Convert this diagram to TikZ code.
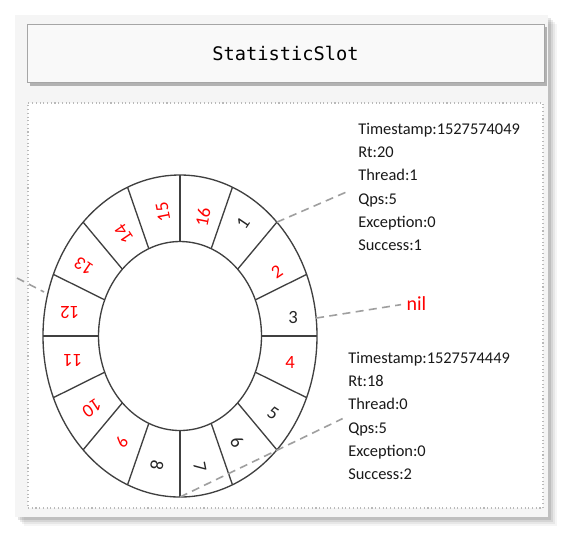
\documentclass[tikz,border=0pt]{standalone}
\usepackage{fontspec}
\setmainfont{Carlito}
\newfontfamily\monofont{DejaVu Sans Mono}
\begin{document}
\begin{tikzpicture}[x=0.75pt,y=-0.75pt,
  ringline/.style={draw=black!75, line width=1pt},
  dashln/.style={draw=gray!75, line width=1.2pt, dash pattern=on 6pt off 4pt},
  info/.style={anchor=north west, inner sep=0pt, align=left, font=\fontsize{12.3}{17.4}\selectfont, text=black!90},
  rnum/.style={font=\fontsize{14}{14}\selectfont, inner sep=0pt},
  rred/.style={rnum, text=red},
  rblk/.style={rnum, text=black!85}]
\useasboundingbox (0,0) rectangle (566,537);
% outer frame with shadow
\foreach \o/\op in {9/0.04,7/0.06,5/0.08,3/0.1}{
  \fill[black,opacity=\op] (15+\o,15+\o) rectangle (548+\o,517+\o);
}
\fill[gray!8] (15,15) rectangle (548,517);
% title
\fill[gray!60] (30,27) rectangle (547,86);
\node[draw=gray!70, fill=gray!5, minimum width=387.75pt, minimum height=43.5pt,
      font=\monofont\fontsize{14}{14}\selectfont] (title) at (285.5,53) {StatisticSlot};
% panel
\node[draw=gray!55, dotted, line width=0.8pt, fill=white, minimum width=386.25pt,
      minimum height=303.75pt] (panel) at (285.5,305.5) {};
% ring
\coordinate (c) at (180,336);
\draw[ringline] (c) ellipse [x radius=102.75pt, y radius=120.75pt];
\draw[ringline] (c) ellipse [x radius=61.125pt, y radius=70.875pt];
\foreach \a in {0,22.5,...,337.5}{
  \draw[ringline, shift={(c)}] (\a:81.5 and 94.5) -- (\a:137 and 161);
}
\foreach \n/\x/\y/\r/\s in {15/163/212/101/rred, 16/203/217/79/rred, 1/243/223/56/rblk,
   2/277/272/34/rred, 3/293/317/0/rblk, 4/290/362/0/rred, 5/273/413/-34/rblk,
   6/237/442/-56/rblk, 7/200/467/-79/rblk, 8/157/465/-101/rblk, 9/122/442/-124/rred,
   10/92/408/-146/rred, 11/73/360/180/rred, 12/70/313/180/rred, 13/84/266/146/rred,
   14/124/234/124/rred}{
  \node[\s, rotate=\r] (n\n) at (\x,\y) {\n};
}
% info blocks
\node[info] (blk1) at (358,123) {Timestamp:1527574049\\Rt:20\\Thread:1\\Qps:5\\Exception:0\\Success:1};
\node[info] (blk2) at (348,352) {Timestamp:1527574449\\Rt:18\\Thread:0\\Qps:5\\Exception:0\\Success:2};
\node[font=\fontsize{15}{15}\selectfont, text=red, inner sep=1pt, anchor=west] (nil) at (405,304) {nil};
% connectors
\coordinate (p45) at ([shift={(c)}]-45:137 and 161);
\coordinate (pbot) at ([shift={(c)}]90:137 and 161);
\coordinate (p3) at ([shift={(c)}]-6.4:137 and 161);
\coordinate (lstart) at (17,278);
\coordinate (lend) at (44,292);
\draw[dashln, shorten >=7.5pt] (p45) -- (blk1.west);
\draw[dashln, shorten >=4.5pt] (pbot) -- (blk2.west);
\draw[dashln, shorten >=3pt] (p3) -- (nil.west);
\draw[dashln] (lstart) -- (lend);
\end{tikzpicture}
\end{document}
